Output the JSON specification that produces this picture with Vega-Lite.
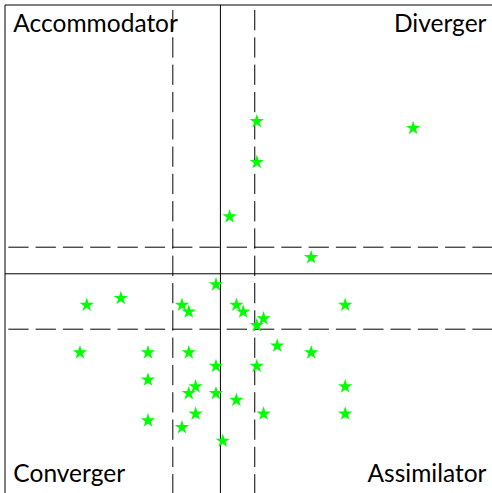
{
  "$schema": "https://vega.github.io/schema/vega-lite/v6.json",
  "width": 487,
  "height": 488,
  "autosize": {"type": "none"},
  "padding": {"left": 5, "top": 5, "right": 0, "bottom": 0},
  "background": "white",
  "config": {"view": {"stroke": null}},
  "datasets": {
    "points": [
      {"x": 6, "y": 27}, {"x": 29, "y": 26}, {"x": 6, "y": 21}, {"x": 2, "y": 13},
      {"x": 14, "y": 7}, {"x": 0, "y": 3}, {"x": -19, "y": 0}, {"x": -14, "y": 1},
      {"x": -5, "y": 0}, {"x": -4, "y": -1}, {"x": 3, "y": 0}, {"x": 4, "y": -1},
      {"x": 7, "y": -2}, {"x": 6, "y": -3}, {"x": 19, "y": 0}, {"x": -20, "y": -7},
      {"x": -10, "y": -7}, {"x": -4, "y": -7}, {"x": 9, "y": -6}, {"x": 14, "y": -7},
      {"x": 0, "y": -9}, {"x": 6, "y": -9}, {"x": -10, "y": -11}, {"x": -3, "y": -12},
      {"x": -4, "y": -13}, {"x": 0, "y": -13}, {"x": 3, "y": -14}, {"x": 19, "y": -12},
      {"x": -10, "y": -17}, {"x": -3, "y": -16}, {"x": -5, "y": -18}, {"x": 7, "y": -16},
      {"x": 19, "y": -16}, {"x": 1, "y": -20}
    ],
    "vsolid": [{"x": -31.03, "top": 44.12, "bottom": -27.65}, {"x": 0.65, "top": 44.12, "bottom": -27.65}],
    "hsolid": [{"y": 44.12, "left": -31.03, "right": 40.59}, {"y": 4.59, "left": -31.03, "right": 40.59}],
    "vdash": [{"x": -6.35, "top": 44.12, "bottom": -27.65}, {"x": 5.7, "top": 44.12, "bottom": -27.65}],
    "hdash": [{"y": 8.5, "left": -31.03, "right": 40.59}, {"y": -3.56, "left": -31.03, "right": 40.59}],
    "labelsLeft": [{"x": -29.8, "y": 40.19, "label": "Accommodator"}, {"x": -29.8, "y": -25.96, "label": "Converger"}],
    "labelsRight": [{"x": 39.78, "y": 40.19, "label": "Diverger"}, {"x": 39.78, "y": -25.96, "label": "Assimilator"}]
  },
  "resolve": {"scale": {"x": "shared", "y": "shared"}},
  "layer": [
    {
      "data": {"name": "vsolid"},
      "mark": {"type": "rule", "color": "black", "strokeWidth": 1},
      "encoding": {
        "x": {"field": "x", "type": "quantitative", "scale": {"domain": [-31.03, 40.59], "nice": false, "zero": false}, "axis": null},
        "y": {"field": "top", "type": "quantitative", "scale": {"domain": [-27.65, 44.12], "nice": false, "zero": false}, "axis": null},
        "y2": {"field": "bottom"}
      }
    },
    {
      "data": {"name": "hsolid"},
      "mark": {"type": "rule", "color": "black", "strokeWidth": 1},
      "encoding": {
        "x": {"field": "left", "type": "quantitative"},
        "x2": {"field": "right"},
        "y": {"field": "y", "type": "quantitative"}
      }
    },
    {
      "data": {"name": "vdash"},
      "mark": {"type": "rule", "color": "black", "strokeWidth": 1, "strokeDash": [20.3, 7], "strokeDashOffset": 22.3},
      "encoding": {
        "x": {"field": "x", "type": "quantitative"},
        "y": {"field": "top", "type": "quantitative"},
        "y2": {"field": "bottom"}
      }
    },
    {
      "data": {"name": "hdash"},
      "mark": {"type": "rule", "color": "black", "strokeWidth": 1, "strokeDash": [20.3, 7], "strokeDashOffset": 24},
      "encoding": {
        "x": {"field": "left", "type": "quantitative"},
        "x2": {"field": "right"},
        "y": {"field": "y", "type": "quantitative"}
      }
    },
    {
      "data": {"name": "labelsLeft"},
      "mark": {"type": "text", "align": "left", "baseline": "alphabetic", "font": "Lato", "fontSize": 24.5, "color": "black"},
      "encoding": {
        "x": {"field": "x", "type": "quantitative"},
        "y": {"field": "y", "type": "quantitative"},
        "text": {"field": "label"}
      }
    },
    {
      "data": {"name": "labelsRight"},
      "mark": {"type": "text", "align": "right", "baseline": "alphabetic", "font": "Lato", "fontSize": 24.5, "color": "black"},
      "encoding": {
        "x": {"field": "x", "type": "quantitative"},
        "y": {"field": "y", "type": "quantitative"},
        "text": {"field": "label"}
      }
    },
    {
      "data": {"name": "points"},
      "mark": {
        "type": "point",
        "filled": true,
        "shape": "M0,-1L0.2245,-0.309L0.9511,-0.309L0.3633,0.118L0.5878,0.809L0,0.382L-0.5878,0.809L-0.3633,0.118L-0.9511,-0.309L-0.2245,-0.309Z",
        "size": 225,
        "color": "#00ff00",
        "opacity": 1
      },
      "encoding": {
        "x": {"field": "x", "type": "quantitative"},
        "y": {"field": "y", "type": "quantitative"}
      }
    }
  ]
}
